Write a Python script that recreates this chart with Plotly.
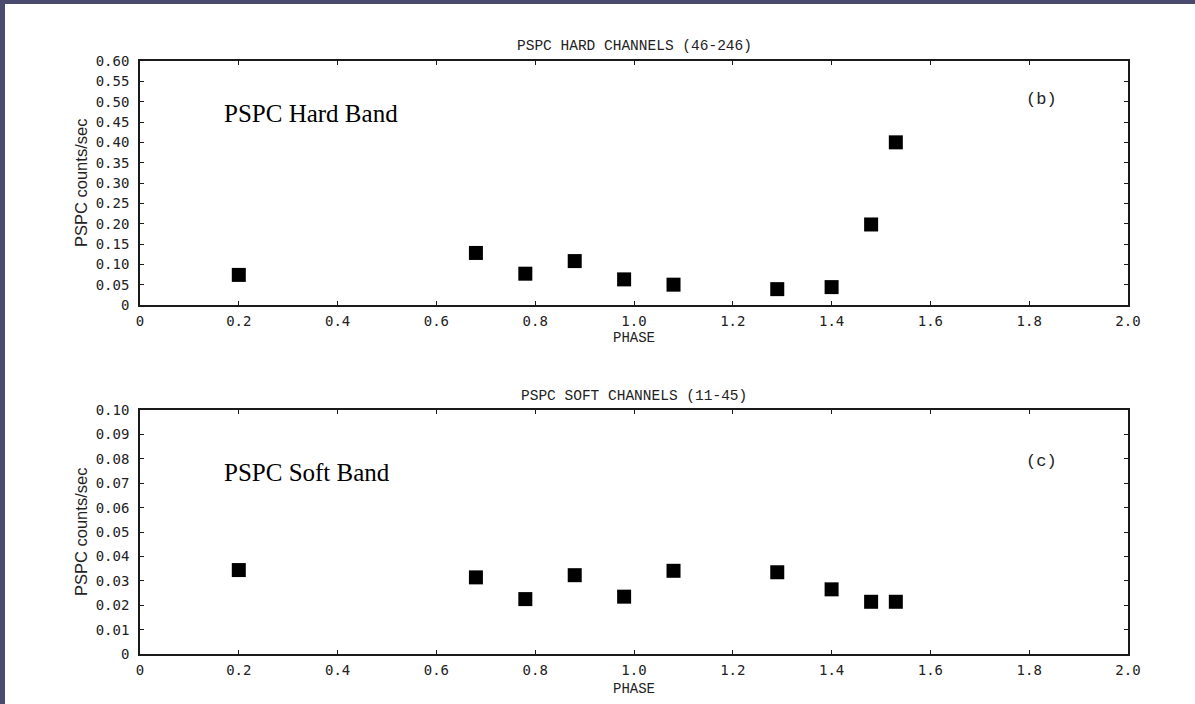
import plotly.graph_objects as go

# ---- data ----
phase = [0.20, 0.68, 0.78, 0.88, 0.98, 1.08, 1.29, 1.40, 1.48, 1.53]
hard_rate = [0.074, 0.128, 0.077, 0.108, 0.063, 0.050, 0.039, 0.044, 0.198, 0.400]
soft_rate = [0.0344, 0.0314, 0.0225, 0.0323, 0.0235, 0.0341, 0.0335, 0.0265, 0.0214, 0.0214]

x_tickvals = [0, 0.2, 0.4, 0.6, 0.8, 1.0, 1.2, 1.4, 1.6, 1.8, 2.0]
x_ticktext = ["0", "0.2", "0.4", "0.6", "0.8", "1.0", "1.2", "1.4", "1.6", "1.8", "2.0"]
hard_tickvals = [0, 0.05, 0.10, 0.15, 0.20, 0.25, 0.30, 0.35, 0.40, 0.45, 0.50, 0.55, 0.60]
hard_ticktext = ["0", "0.05", "0.10", "0.15", "0.20", "0.25", "0.30", "0.35", "0.40", "0.45", "0.50", "0.55", "0.60"]
soft_tickvals = [0, 0.01, 0.02, 0.03, 0.04, 0.05, 0.06, 0.07, 0.08, 0.09, 0.10]
soft_ticktext = ["0", "0.01", "0.02", "0.03", "0.04", "0.05", "0.06", "0.07", "0.08", "0.09", "0.10"]

hard_title = "PSPC HARD CHANNELS (46-246)"
soft_title = "PSPC SOFT CHANNELS (11-45)"
hard_label = "PSPC Hard Band"
soft_label = "PSPC Soft Band"

W, H = 1195, 704
ML, MR, MT, MB = 140, 67, 61, 50
PW, PH = W - ML - MR, H - MT - MB

def px_x(p):
    return (p - ML) / PW

def px_y(p):
    return (H - MB - p) / PH

BORDER = "#4a4a6e"
INK = "#1a1a1a"
TXT = "#222222"
TICKFONT = dict(family="DejaVu Sans Mono", size=14, color=TXT)
TITLEFONT = dict(family="Liberation Mono", size=14.5, color=TXT)
LETTERFONT = dict(family="Liberation Mono", size=17, color=TXT)
XTITLEFONT = dict(family="Liberation Mono", size=14, color=TXT)

fig = go.Figure()
fig.add_trace(go.Scatter(x=phase, y=hard_rate, mode="markers", xaxis="x", yaxis="y",
                         marker=dict(symbol="square", size=14, color="black"), showlegend=False))
fig.add_trace(go.Scatter(x=phase, y=soft_rate, mode="markers", xaxis="x2", yaxis="y2",
                         marker=dict(symbol="square", size=14, color="black"), showlegend=False))

axis_common = dict(showline=True, linecolor=INK, linewidth=1.6, mirror="ticks",
                   ticks="inside", ticklen=4, tickwidth=1.2, tickcolor=INK,
                   showgrid=False, zeroline=False, tickfont=TICKFONT)

top_lo = px_y(305)
bot_hi = px_y(410)

fig.update_layout(
    width=W, height=H,
    margin=dict(l=ML, r=MR, t=MT, b=MB, pad=0),
    paper_bgcolor="white", plot_bgcolor="white",
    xaxis=dict(domain=[0, 1], range=[0, 2.0], anchor="y", tickvals=x_tickvals, ticktext=x_ticktext,
               ticklabelstandoff=2, **axis_common),
    yaxis=dict(domain=[top_lo, 1], range=[0, 0.60], anchor="x", tickvals=hard_tickvals, ticktext=hard_ticktext,
               ticklabelstandoff=6, **axis_common),
    xaxis2=dict(domain=[0, 1], range=[0, 2.0], anchor="y2", tickvals=x_tickvals, ticktext=x_ticktext,
                ticklabelstandoff=2, **axis_common),
    yaxis2=dict(domain=[0, bot_hi], range=[0, 0.10], anchor="x2", tickvals=soft_tickvals, ticktext=soft_ticktext,
                ticklabelstandoff=6, **axis_common),
    shapes=[
        dict(type="rect", xref="paper", yref="paper", x0=px_x(0), x1=px_x(5), y0=px_y(704), y1=px_y(0),
             fillcolor=BORDER, line=dict(width=0), layer="above"),
        dict(type="rect", xref="paper", yref="paper", x0=px_x(0), x1=px_x(1195), y0=px_y(4), y1=px_y(0),
             fillcolor=BORDER, line=dict(width=0), layer="above"),
    ],
)

ann = []
# panel titles
ann.append(dict(text=hard_title, xref="paper", yref="paper", x=px_x(634), y=px_y(46),
                showarrow=False, font=TITLEFONT, xanchor="center", yanchor="middle"))
ann.append(dict(text=soft_title, xref="paper", yref="paper", x=px_x(634), y=px_y(396),
                showarrow=False, font=TITLEFONT, xanchor="center", yanchor="middle"))
# x-axis titles
ann.append(dict(text="PHASE", xref="paper", yref="paper", x=px_x(634), y=px_y(338),
                showarrow=False, font=XTITLEFONT, xanchor="center", yanchor="middle"))
ann.append(dict(text="PHASE", xref="paper", yref="paper", x=px_x(634), y=px_y(689),
                showarrow=False, font=XTITLEFONT, xanchor="center", yanchor="middle"))
# y-axis titles
ann.append(dict(text="PSPC counts/sec", xref="paper", yref="paper", x=px_x(81), y=px_y(183),
                showarrow=False, textangle=-90, font=dict(family="Liberation Sans", size=16.5, color=TXT),
                xanchor="center", yanchor="middle"))
ann.append(dict(text="PSPC counts/sec", xref="paper", yref="paper", x=px_x(81), y=px_y(532),
                showarrow=False, textangle=-90, font=dict(family="Liberation Sans", size=16.5, color=TXT),
                xanchor="center", yanchor="middle"))
# band labels
ann.append(dict(text=hard_label, xref="x", yref="y", x=0.166, y=0.472, showarrow=False,
                font=dict(family="Liberation Serif", size=25, color="black"), xanchor="left", yanchor="middle"))
ann.append(dict(text=soft_label, xref="x2", yref="y2", x=0.166, y=0.0745, showarrow=False,
                font=dict(family="Liberation Serif", size=25, color="black"), xanchor="left", yanchor="middle"))
# panel letters
ann.append(dict(text="(b)", xref="x", yref="y", x=1.824, y=0.506, showarrow=False,
                font=LETTERFONT, xanchor="center", yanchor="middle"))
ann.append(dict(text="(c)", xref="x2", yref="y2", x=1.824, y=0.0787, showarrow=False,
                font=LETTERFONT, xanchor="center", yanchor="middle"))

fig.update_layout(annotations=ann)

fig.write_html("out.html")
